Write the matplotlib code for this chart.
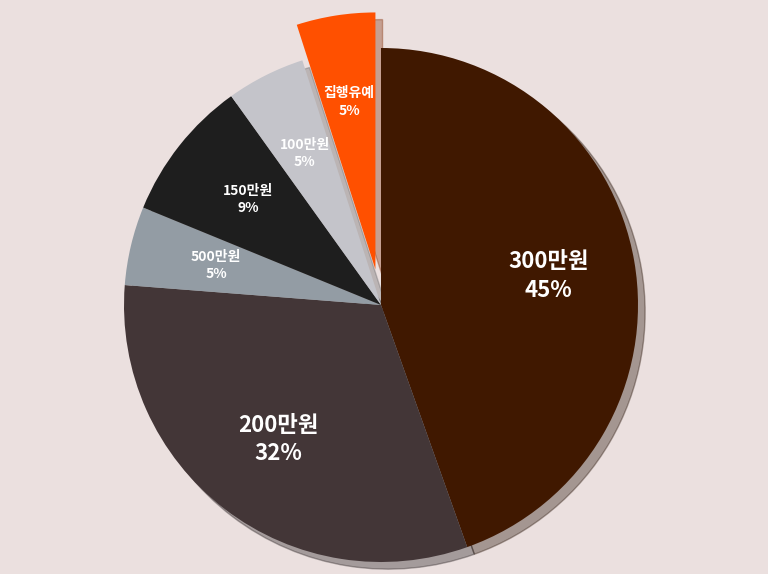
import matplotlib.pyplot as plt

plt.rcParams['font.family'] = ['Noto Sans CJK KR', 'DejaVu Sans']

labels = ['300만원', '200만원', '500만원', '150만원', '100만원', '집행유예']
values = [45, 32, 5, 9, 5, 5]
shares = ['45%', '32%', '5%', '9%', '5%', '5%']
colors = ['#401800', '#433637', '#939ca4', '#1e1e1e', '#c4c4ca', '#ff5000']
explode = [0, 0, 0, 0, 0, 0.14]

fig = plt.figure(figsize=(7.68, 5.74), dpi=100)
fig.patch.set_facecolor('#ebe0df')
ax = fig.add_axes([0, 0, 1, 1])
ax.set_facecolor('#ebe0df')

wedges, texts = ax.pie(values, colors=colors, explode=explode, startangle=90,
                       counterclock=False, shadow={'ox': 0.02, 'oy': -0.02, 'shade': 0.5, 'alpha': 0.35},
                       labels=[f'{l}\n{s}' for l, s in zip(labels, shares)],
                       labeldistance=0.66,
                       textprops=dict(color='white', fontweight='bold', ha='center', va='center',
                                      linespacing=1.3))
for i, t in enumerate(texts):
    t.set_fontsize(16 if values[i] > 20 else 10)

r = 257
ax.set_xlim(-381 / r, (768 - 381) / r)
ax.set_ylim(-(574 - 305) / r, 305 / r)
ax.set_aspect('equal')
ax.axis('off')

fig.savefig('out.png', dpi=100, facecolor=fig.get_facecolor())
